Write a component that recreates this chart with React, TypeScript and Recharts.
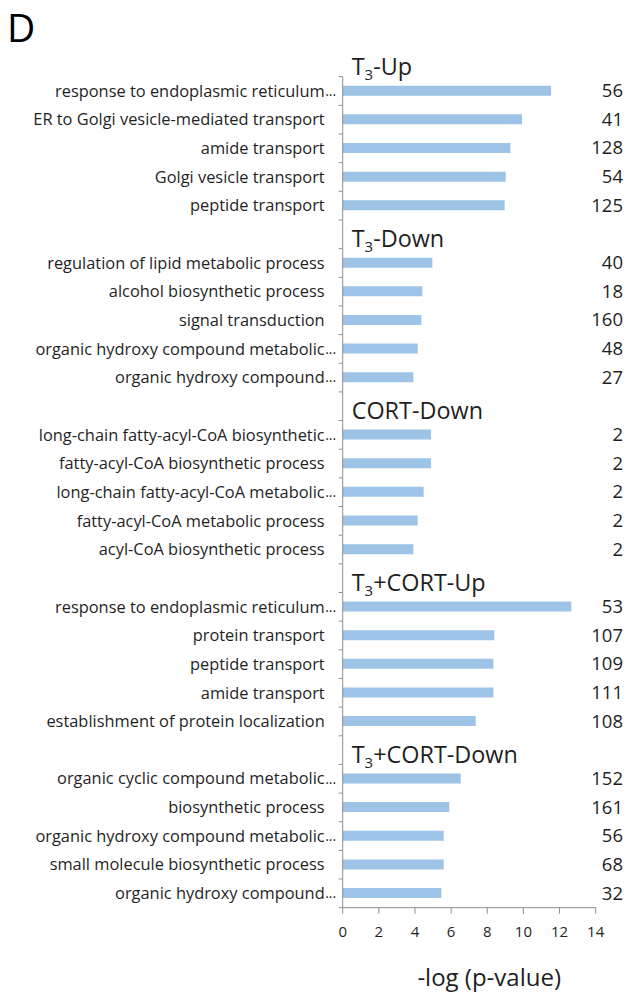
import React from 'react';
import { BarChart, Bar, XAxis, YAxis, LabelList, Label } from 'recharts';

const groupNames = ['T3-Up', 'T3-Down', 'CORT-Down', 'T3+CORT-Up', 'T3+CORT-Down'];

const t3UpTerms = [
  'response to endoplasmic reticulum…',
  'ER to Golgi vesicle-mediated transport',
  'amide transport',
  'Golgi vesicle transport',
  'peptide transport',
];
const t3UpValues = [11.53, 9.92, 9.28, 9.02, 8.96];
const t3UpCounts = [56, 41, 128, 54, 125];

const t3DownTerms = [
  'regulation of lipid metabolic process',
  'alcohol biosynthetic process',
  'signal transduction',
  'organic hydroxy compound metabolic…',
  'organic hydroxy compound…',
];
const t3DownValues = [4.96, 4.41, 4.35, 4.15, 3.91];
const t3DownCounts = [40, 18, 160, 48, 27];

const cortDownTerms = [
  'long-chain fatty-acyl-CoA biosynthetic…',
  'fatty-acyl-CoA biosynthetic process',
  'long-chain fatty-acyl-CoA metabolic…',
  'fatty-acyl-CoA metabolic process',
  'acyl-CoA biosynthetic process',
];
const cortDownValues = [4.89, 4.89, 4.48, 4.15, 3.91];
const cortDownCounts = [2, 2, 2, 2, 2];

const t3CortUpTerms = [
  'response to endoplasmic reticulum…',
  'protein transport',
  'peptide transport',
  'amide transport',
  'establishment of protein localization',
];
const t3CortUpValues = [12.65, 8.39, 8.34, 8.34, 7.36];
const t3CortUpCounts = [53, 107, 109, 111, 108];

const t3CortDownTerms = [
  'organic cyclic compound metabolic…',
  'biosynthetic process',
  'organic hydroxy compound metabolic…',
  'small molecule biosynthetic process',
  'organic hydroxy compound…',
];
const t3CortDownValues = [6.53, 5.9, 5.59, 5.59, 5.46];
const t3CortDownCounts = [152, 161, 56, 68, 32];

const xTicks = [0, 2, 4, 6, 8, 10, 12, 14];
const xAxisTitle = '-log (p-value)';

const groups = [
  { terms: t3UpTerms, values: t3UpValues, counts: t3UpCounts },
  { terms: t3DownTerms, values: t3DownValues, counts: t3DownCounts },
  { terms: cortDownTerms, values: cortDownValues, counts: cortDownCounts },
  { terms: t3CortUpTerms, values: t3CortUpValues, counts: t3CortUpCounts },
  { terms: t3CortDownTerms, values: t3CortDownValues, counts: t3CortDownCounts },
];

type Row = { key: string; label: string; value: number | null; count: number | null; heading: string | null };

const rows: Row[] = [];
groups.forEach((g, gi) => {
  if (gi > 0) rows.push({ key: `gap-${gi}`, label: '', value: null, count: null, heading: null });
  g.terms.forEach((t, i) => {
    rows.push({
      key: `${gi}-${i}`,
      label: t,
      value: g.values[i],
      count: g.counts[i],
      heading: i === 0 ? groupNames[gi] : null,
    });
  });
});

const W = 630;
const H = 995;
const FONT = '"Open Sans", sans-serif';
const AXIS_COLOR = '#8e8e8e';
const TEXT_COLOR = '#1f1f1f';
const BAR_COLOR = '#9dc3e6';

const Heading = ({ x, y, name }: { x: number; y: number; name: string }) => {
  const hasT3 = name.startsWith('T3');
  return (
    <text x={x} y={y} fontSize={23.4} fill={TEXT_COLOR} fontFamily={FONT}>
      {hasT3 ? (
        <>
          <tspan>T</tspan>
          <tspan dy={5} fontSize={15}>3</tspan>
          <tspan dy={-5}>{name.slice(2)}</tspan>
        </>
      ) : (
        name
      )}
    </text>
  );
};

const CategoryTick = (props: any) => {
  const { x, y, payload, index } = props;
  const row = rows.find((r) => r.key === payload.value);
  const half = payload && payload.offset ? payload.offset : 14.33;
  const isLast = index === rows.length - 1;
  const label = row ? row.label : '';
  const ell = label.endsWith('…');
  const base = ell ? label.slice(0, -1) : label;
  const lx = x - 18;
  return (
    <g>
      <line x1={x - 4} x2={x} y1={y - half} y2={y - half} stroke={AXIS_COLOR} />
      {isLast && <line x1={x - 4} x2={x} y1={y + half} y2={y + half} stroke={AXIS_COLOR} />}
      {base && (
        <text x={lx} y={y} dy="0.35em" textAnchor="end" fontSize={16.4} fill={TEXT_COLOR} fontFamily={FONT}>
          {base}
        </text>
      )}
      {ell && (
        <text x={lx + 0.5} y={y} dy="0.35em" textAnchor="start" fontSize={14} fill={TEXT_COLOR} fontFamily={FONT}>
          ...
        </text>
      )}
      {row && row.heading && <Heading x={x + 9} y={y - 16} name={row.heading} />}
    </g>
  );
};

const CountLabel = (props: any) => {
  const { y, height, value } = props;
  if (value == null) return null;
  return (
    <text
      x={W - 7}
      y={y + height / 2}
      dy="0.35em"
      textAnchor="end"
      fontSize={18.5}
      fill={TEXT_COLOR}
      fontFamily={FONT}
    >
      {value}
    </text>
  );
};

const AxisTitle = (props: any) => {
  const vb = props.viewBox || { x: 0, y: 0, width: 0, height: 0 };
  return (
    <text
      x={vb.x + vb.width / 2 + 20}
      y={vb.y + vb.height - 9}
      textAnchor="middle"
      fontSize={24}
      fill={TEXT_COLOR}
      fontFamily={FONT}
    >
      {xAxisTitle}
    </text>
  );
};

export default function App() {
  return (
    <div style={{ position: 'absolute', left: 0, top: 0, width: W, height: H, background: '#fff' }}>
      <svg width={W} height={60} style={{ position: 'absolute', left: 0, top: 0 }}>
        <text x={7} y={42} fontSize={39} fill="#000" fontFamily={FONT}>
          D
        </text>
      </svg>
      <BarChart
        width={W}
        height={H}
        data={rows}
        layout="vertical"
        margin={{ top: 76.7, right: 34.3, bottom: 0, left: 0 }}
        style={{ position: 'absolute', left: 0, top: 0 }}
      >
        <XAxis
          type="number"
          domain={[0, 14]}
          ticks={xTicks}
          interval={0}
          height={87.3}
          tickSize={6}
          tickMargin={13}
          stroke={AXIS_COLOR}
          axisLine={{ stroke: AXIS_COLOR }}
          tickLine={{ stroke: AXIS_COLOR }}
          tick={{ fill: TEXT_COLOR, fontSize: 15, fontFamily: FONT }}
        >
          <Label content={AxisTitle} />
        </XAxis>
        <YAxis
          type="category"
          dataKey="key"
          width={342.7}
          interval={0}
          tickLine={false}
          tickSize={0}
          tickMargin={0}
          axisLine={{ stroke: AXIS_COLOR }}
          tick={CategoryTick}
        />
        <Bar dataKey="value" fill={BAR_COLOR} barSize={10} isAnimationActive={false}>
          <LabelList dataKey="count" content={CountLabel} />
        </Bar>
      </BarChart>
    </div>
  );
}
